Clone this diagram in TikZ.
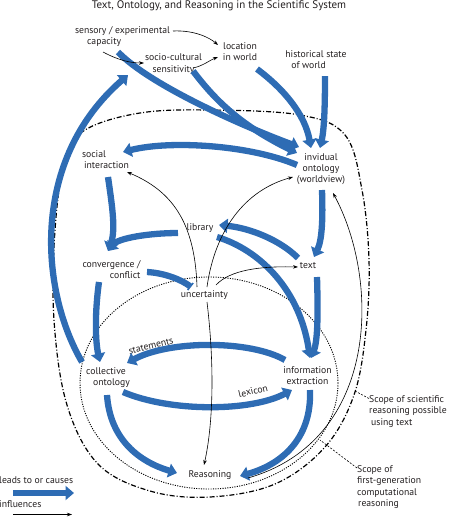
\documentclass[tikz,border=0pt]{standalone}
\usepackage{fontspec}
\setmainfont{PT Sans}
\usetikzlibrary{arrows.meta}
\definecolor{arrowblue}{RGB}{46,108,180}
\definecolor{txt}{RGB}{35,31,32}
\begin{document}
\begin{tikzpicture}[x=1pt,y=-1pt,
  lbl/.style={font=\fontsize{9.7}{11.2}\selectfont, text=txt, inner sep=0pt, align=center},
  cause/.style={draw=arrowblue, line width=6.3pt, -{Triangle[width=14pt,length=8.5pt]}},
  blunt/.style={draw=arrowblue, line width=6.3pt, -{Bar[width=9pt,line width=1.5pt]}},
  infl/.style={draw=black, line width=0.6pt, -{Stealth[length=5pt,width=3.5pt]}},
  scopeA/.style={draw=black, line width=1.2pt, dash pattern=on 5pt off 2pt on 1pt off 2pt},
  scopeB/.style={draw=black, line width=0.9pt, dash pattern=on 1.1pt off 1.3pt},
  pointer/.style={draw=black, line width=0.6pt, dash pattern=on 2pt off 1.5pt}]
\useasboundingbox (0,0) rectangle (448,517);

% nodes
\node[lbl, font=\fontsize{11}{13}\selectfont] (title) at (219,6) {Text, Ontology, and Reasoning in the Scientific System};
\node[lbl, align=left] (sens) at (122.5,36.5) {sensory / experimental\\\hspace*{12pt}capacity};
\node[lbl] (soc) at (173.5,64) {socio-cultural\\sensitivity};
\node[lbl] (loc) at (240,52) {location\\in world};
\node[lbl, align=left] (hist) at (316,60) {historical state\\\hspace*{6pt}of world};
\node[lbl] (ont) at (321,169) {invidual\\ontology\\(worldview)};
\node[lbl, align=left] (si) at (105.5,160) {social\\\hspace*{2pt}interaction};
\node[lbl] (lib) at (200,228) {library};
\node[lbl] (text) at (308,266) {text};
\node[lbl, align=right] (conv) at (111.5,269.5) {convergence /\\conflict};
\node[lbl] (unc) at (204.5,295) {uncertainty};
\node[lbl, align=left] (coll) at (108,377.5) {collective\\\hspace*{7pt}ontology};
\node[lbl] (info) at (307.5,376) {information\\extraction};
\node[lbl] (reas) at (210,475) {Reasoning};
\node[lbl, rotate=14] (stm) at (151,346) {statements};
\node[lbl, rotate=13] (lex) at (253,391) {lexicon};
\node[lbl, anchor=west] (leg1) at (-1,480) {leads to or causes};
\node[lbl, anchor=west] (leg2) at (-1,504) {influences};
\node[lbl, anchor=west, align=left] (scA) at (369,411.5) {Scope of scientific\\reasoning possible\\\hspace*{2pt}using text};
\node[lbl, anchor=west, align=left] (scB) at (357,487) {Scope of\\first-generation\\computational\\\hspace*{1pt}reasoning};

% scope boundaries
\draw[scopeA] plot[smooth cycle, tension=0.6] coordinates {(210,110) (300,115) (345,135) (362,190) (369,260) (366,330) (354,395) (325,447) (275,484) (210,497) (150,491) (98,464) (67,405) (54,320) (55,230) (65,160) (85,130) (140,113)};
\draw[scopeB] (209,383) ellipse [x radius=129, y radius=106];
\draw[pointer] (scA.west) ++(0,-13) coordinate (pA) -- (355,391);
\draw[pointer] (scB.west) ++(0,-19) coordinate (pB) -- (320,440);

% thick arrows (leads to or causes)
\draw[cause] ([shift={(-4.5,15.5)}]sens.center) .. controls (150,85) and (240,125) .. ([shift={(-22,-22)}]ont.center);
\draw[cause] ([shift={(19.5,7)}]soc.center) .. controls (215,100) and (240,125) .. ([shift={(-24,-16)}]ont.center);
\draw[cause] ([shift={(17,17)}]loc.center) .. controls (285,90) and (305,115) .. ([shift={(-10,-21)}]ont.center);
\draw[cause] ([shift={(9,16)}]hist.center) .. controls (325,110) and (324,130) .. ([shift={(-1,-21)}]ont.center);
\draw[cause] ([shift={(-24,-4)}]ont.center) .. controls (250,145) and (170,140) .. ([shift={(17.5,-8)}]si.center);
\draw[cause] ([shift={(2.5,17)}]si.center) .. controls (112,205) and (116,230) .. ([shift={(-3.5,-18.5)}]conv.center);
\draw[cause] ([shift={(-22,5)}]lib.center) .. controls (150,233) and (118,238) .. ([shift={(-3.5,-18.5)}]conv.center);
\draw[cause] ([shift={(-10,-8)}]text.center) .. controls (280,240) and (250,228) .. ([shift={(19,-3)}]lib.center);
\draw[cause] ([shift={(17,9)}]lib.center) .. controls (260,250) and (300,290) .. ([shift={(2.5,-18)}]info.center);
\draw[cause] ([shift={(1,21)}]ont.center) .. controls (323,220) and (322,240) .. ([shift={(6,-9)}]text.center);
\draw[cause] ([shift={(9,11)}]text.center) .. controls (318,310) and (318,340) .. ([shift={(3.5,-18)}]info.center);
\draw[blunt] ([shift={(35.5,2.5)}]conv.center) .. controls (165,273) and (182,280) .. ([shift={(-13.5,-8)}]unc.center);
\draw[cause] ([shift={(-12.5,12.5)}]conv.center) .. controls (95,310) and (95,340) .. ([shift={(-8,-15.5)}]coll.center);
\draw[cause] ([shift={(-26,-15.5)}]coll.center) .. controls (40,290) and (30,160) .. ([shift={(5.5,38.5)}]sens.center);
\draw[cause] ([shift={(-22.5,-16)}]info.center) .. controls (250,340) and (170,340) .. ([shift={(19,-14.5)}]coll.center);
\draw[cause] ([shift={(15,14.5)}]coll.center) .. controls (170,412) and (250,412) .. ([shift={(-15.5,14)}]info.center);
\draw[cause] ([shift={(-1,17.5)}]coll.center) .. controls (110,440) and (140,462) .. ([shift={(-33,-2)}]reas.center);
\draw[cause] ([shift={(2.5,14)}]info.center) .. controls (312,440) and (280,465) .. ([shift={(30,1)}]reas.center);

% thin arrows (influences)
\draw[infl] ([shift={(50.5,-5.5)}]sens.center) .. controls (195,30) and (210,38) .. ([shift={(-22,-7)}]loc.center);
\draw[infl] ([shift={(-19.5,15.5)}]sens.center) .. controls (118,60) and (130,63) .. ([shift={(-29.5,-1)}]soc.center);
\draw[infl] ([shift={(19.5,4)}]soc.center) .. controls (203,66) and (210,60) .. ([shift={(-22,5)}]loc.center);
\draw[infl] ([shift={(-7.5,-8)}]unc.center) .. controls (195,220) and (170,190) .. ([shift={(21.5,12)}]si.center);
\draw[infl] ([shift={(2.5,-8)}]unc.center) .. controls (215,230) and (245,190) .. ([shift={(-28,8)}]ont.center);
\draw[infl] ([shift={(11.5,-10)}]unc.center) .. controls (230,270) and (260,266) .. ([shift={(-10,1)}]text.center);
\draw[infl] ([shift={(2.5,7)}]unc.center) .. controls (214,360) and (214,420) .. ([shift={(-6,-10)}]reas.center);
\draw[infl] ([shift={(38,3)}]reas.center) .. controls (380,440) and (380,280) .. ([shift={(12,24)}]ont.center);

% legend
\coordinate (l1a) at (13,493);
\coordinate (l1b) at (74,493);
\coordinate (l2a) at (13,514.5);
\coordinate (l2b) at (72,514.5);
\draw[cause] (l1a) -- (l1b);
\draw[infl] (l2a) -- (l2b);
\end{tikzpicture}
\end{document}
